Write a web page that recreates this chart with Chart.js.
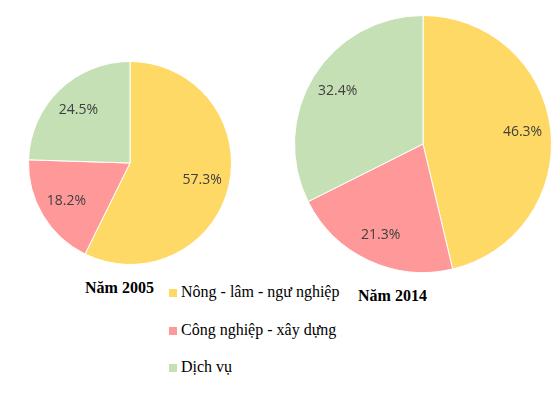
<!DOCTYPE html>
<html>
<head>
<meta charset="utf-8">
<script src="https://cdn.jsdelivr.net/npm/chart.js@4.4.0/dist/chart.umd.min.js"></script>
<style>
  body { margin: 0; background: #fff; width: 560px; height: 394px; position: relative; overflow: hidden; }
  canvas { position: absolute; }
  .title { position: absolute; font-family: "Liberation Serif", "Times New Roman", serif; font-weight: bold; font-size: 16px; color: #000; white-space: nowrap; }
  .legend { position: absolute; left: 169px; top: 283px; font-family: "Liberation Serif", "Times New Roman", serif; font-size: 16px; color: #000; }
  .legend div { height: 37.7px; white-space: nowrap; font-family: "Liberation Serif", "Times New Roman", serif; }
  .legend span.box { display: inline-block; width: 8px; height: 8px; margin-right: 4px; }
</style>
</head>
<body>
<canvas id="pie2005" width="204" height="204" style="left:28px;top:61px"></canvas>
<canvas id="pie2014" width="258" height="258" style="left:294px;top:15px"></canvas>
<div class="title" style="left:85px;top:279px">Năm 2005</div>
<div class="title" style="left:358px;top:287px">Năm 2014</div>
<div class="legend" id="legend"></div>
<script>
var categories = ['Nông - lâm - ngư nghiệp', 'Công nghiệp - xây dựng', 'Dịch vụ'];
var values2005 = [57.3, 18.2, 24.5];
var values2014 = [46.3, 21.3, 32.4];
var colors = ['#FFD966', '#FF9999', '#C5E0B4'];

// draws percentage text inside each slice
var sliceLabels = {
  id: 'sliceLabels',
  afterDatasetsDraw: function(chart, args, opts) {
    var ctx = chart.ctx;
    var meta = chart.getDatasetMeta(0);
    var data = chart.data.datasets[0].data;
    ctx.save();
    ctx.font = '14px "Open Sans", sans-serif';
    ctx.fillStyle = '#404040';
    ctx.textAlign = 'center';
    ctx.textBaseline = 'middle';
    meta.data.forEach(function(arc, i) {
      var mid = (arc.startAngle + arc.endAngle) / 2;
      var r = arc.outerRadius * opts.frac;
      ctx.fillText(data[i].toFixed(1) + '%', arc.x + Math.cos(mid) * r, arc.y + Math.sin(mid) * r);
    });
    ctx.restore();
  }
};

function makePie(id, values, frac) {
  return new Chart(document.getElementById(id), {
    type: 'pie',
    data: {
      labels: categories,
      datasets: [{
        data: values,
        backgroundColor: colors,
        borderColor: '#ffffff',
        borderWidth: 1
      }]
    },
    options: {
      responsive: false,
      animation: false,
      layout: { padding: 0 },
      plugins: {
        legend: { display: false },
        tooltip: { enabled: false },
        sliceLabels: { frac: frac }
      }
    },
    plugins: [sliceLabels]
  });
}

makePie('pie2005', values2005, 0.73);
makePie('pie2014', values2014, 0.78);

var legend = document.getElementById('legend');
categories.forEach(function(c, i) {
  var row = document.createElement('div');
  var box = document.createElement('span');
  box.className = 'box';
  box.style.background = colors[i];
  row.appendChild(box);
  row.appendChild(document.createTextNode(c));
  legend.appendChild(row);
});
</script>
</body>
</html>
